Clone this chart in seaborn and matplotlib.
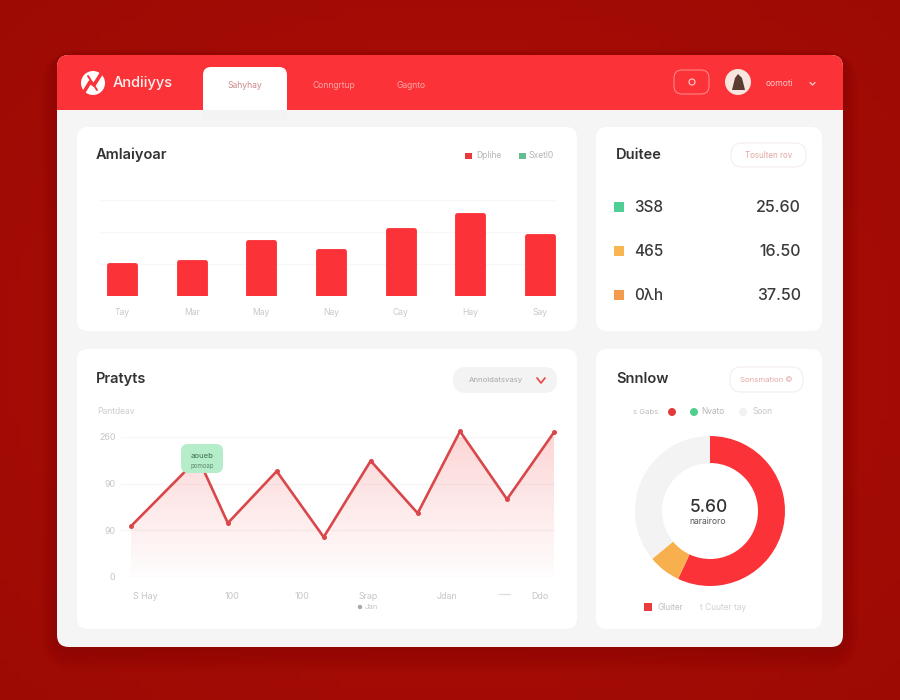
import numpy as np
import pandas as pd
import matplotlib
matplotlib.use("Agg")
import matplotlib.pyplot as plt
from matplotlib.patches import FancyBboxPatch, Circle, Rectangle, Polygon
import seaborn as sns

# ---- data ----
bar_months = ["Tay", "Mar", "May", "Nay", "Cay", "Hay", "Say"]
bar_values = [96, 105, 168, 139, 205, 252, 186]
bar_ticks = [0, 100, 200, 300]

line_days = [0, 1.43, 2.06, 3.1, 4.1, 5.1, 6.1, 7.0, 8.0, 9.0]
line_values = [98, 229, 104, 204, 77, 224, 123, 281, 150, 279]
line_yticks = [0, 90, 180, 270]
line_ylabels = ["0", "90", "90", "260"]
line_xticks = [0.3, 2.15, 3.64, 5.04, 6.72, 8.7]
line_xlabels = ["S Hay", "100", "100", "Srap", "Jdan", "Ddo"]

donut_values = [57, 7, 36]
donut_colors = ["#fb3338", "#f8b04e", "#f3f3f3"]

dur_labels = ["3S8", "465", "0\u03bbh"]
dur_values = ["25.60", "16.50", "37.50"]
dur_colors = ["#4fcf96", "#f9b54f", "#f49a4c"]

RED = "#fb3338"
sns.set_theme(style="white")
plt.rcParams["font.family"] = ["Inter", "DejaVu Sans"]

fig = plt.figure(figsize=(9, 7), dpi=100)


def px_axes(x0, y0, x1, y1, z=2):
    ax = fig.add_axes([x0 / 900, 1 - y1 / 700, (x1 - x0) / 900, (y1 - y0) / 700], zorder=z)
    ax.patch.set_alpha(0)
    return ax


def overlay(z):
    ax = fig.add_axes([0, 0, 1, 1], zorder=z)
    ax.set_xlim(0, 900)
    ax.set_ylim(700, 0)
    ax.axis("off")
    ax.patch.set_alpha(0)
    return ax


def rbox(ax, x0, y0, x1, y1, r, fc, ec="none", lw=0, z=1, alpha=None):
    ax.add_patch(FancyBboxPatch((x0 + r, y0 + r), x1 - x0 - 2 * r, y1 - y0 - 2 * r,
                                boxstyle=f"round,pad={r},rounding_size={r}",
                                fc=fc, ec=ec, lw=lw, zorder=z, alpha=alpha))


# ---- background ----
bg = overlay(0)
yy, xx = np.mgrid[0:1:70j, 0:1:90j]
d = np.clip(np.hypot((xx - 0.5) / 0.75, (yy - 0.5) / 0.75), 0, 1)
c0 = np.array([176, 16, 8]) / 255
c1 = np.array([156, 10, 4]) / 255
bg.imshow((c0[None, None, :] * (1 - d[..., None]) + c1[None, None, :] * d[..., None]),
          extent=(0, 900, 700, 0), aspect="auto", zorder=0)
bg.set_xlim(0, 900)
bg.set_ylim(700, 0)
for i in range(8):
    g = 26 - i * 3
    rbox(bg, 57 - g * .6, 55 - g * .2, 843 + g * .6, 647 + g, 14 + g, "#6e0602", alpha=0.035, z=1)
rbox(bg, 57, 55, 843, 647, 12, "#f5f5f5", z=2)
# header, square at the bottom
rbox(bg, 57, 55, 843, 90, 12, RED, z=3)
bg.add_patch(Rectangle((57, 72), 786, 37.5, fc=RED, ec="none", zorder=3))
# tab
rbox(bg, 203, 67, 287, 100, 8, "#ffffff", z=4)
bg.add_patch(Rectangle((203, 85), 84, 25, fc="#ffffff", ec="none", zorder=4))
bg.add_patch(Rectangle((203, 110), 84, 10, fc="#f3f3f3", ec="none", zorder=2.5))
# cards
for box in [(77, 127, 577, 331), (596, 127, 822, 331), (77, 349, 577, 629), (596, 349, 822, 629)]:
    rbox(bg, *box, 11, "#ffffff", z=5)

T = dict(zorder=6, va="center")
# header content
bg.add_patch(Circle((93, 83), 12, fc="#ffffff", ec="none", zorder=6))
bg.plot([84, 90, 94, 101], [92, 82, 85, 74], color=RED, lw=2.6, zorder=7)
bg.plot([88, 97], [76, 90], color=RED, lw=1.4, zorder=7)
bg.text(113, 83, "Andiiyys", color="#fff1f0", fontsize=10.5, fontweight="medium", **T)
bg.text(245, 86, "Sahyhay", color="#c98a88", fontsize=6.2, ha="center", **T)
bg.text(334, 85, "Conngrtup", color="#ffa5a5", fontsize=6.2, ha="center", **T)
bg.text(411, 85, "Gagnto", color="#ffa5a5", fontsize=6.2, ha="center", **T)
rbox(bg, 674, 70, 709, 94, 8, "none", ec="#ff8f8f", lw=0.7, z=6)
bg.add_patch(Circle((692, 82), 3, fc="none", ec="#ffd0d0", lw=0.8, zorder=6))
bg.add_patch(Circle((738, 82), 13, fc="#f7e6dd", ec="none", zorder=6))
bg.add_patch(Polygon([[732, 90], [735, 78], [738, 74], [742, 78], [745, 90]], fc="#5b3a32", ec="none", zorder=7))
bg.text(779, 84, "oomoti", color="#ffc4c2", fontsize=6.2, ha="center", **T)
bg.plot([810, 812.5, 815], [82.5, 85, 82.5], color="#ffc4c2", lw=1, zorder=6)

# ---- card 1: bars ----
bg.text(96, 155, "Amlaiyoar", color="#333333", fontsize=10.5, fontweight="semibold", **T)
bg.add_patch(Rectangle((465, 153), 6.5, 5.5, fc="#e8393c", ec="none", zorder=6))
bg.text(476, 156, "Dplihe", color="#b5b5b5", fontsize=6.2, **T)
bg.add_patch(Rectangle((519, 153), 6.5, 5.5, fc="#66bd92", ec="none", zorder=6))
bg.text(529, 156, "Sxetl0", color="#b5b5b5", fontsize=6.2, **T)

ax1 = px_axes(100, 200, 556, 295.5)
df_bar = pd.DataFrame({"month": bar_months, "value": bar_values})
sns.barplot(data=df_bar, x="month", y="value", color=RED, saturation=1, width=0.375, ax=ax1, zorder=3,
            edgecolor=RED, linewidth=3.5)
for p in ax1.patches:
    p.set_joinstyle("round")
ax1.set_xlim((100 - 122) / 69.67, (556 - 122) / 69.67)
ax1.set_ylim(0, 300)
ax1.set_yticks(bar_ticks)
ax1.set_yticklabels([])
ax1.set_xlabel("")
ax1.set_ylabel("")
ax1.grid(axis="y", color="#f7f7f7", lw=0.9, zorder=0)
ax1.grid(axis="x", visible=False)
ax1.tick_params(axis="x", length=0, pad=9, labelsize=6.2, labelcolor="#c8c8c8")
ax1.tick_params(axis="y", length=0)
sns.despine(ax=ax1, left=True, bottom=True)

# ---- card 2: list ----
bg.text(616, 155, "Duitee", color="#333333", fontsize=10.5, fontweight="semibold", **T)
rbox(bg, 731, 143, 806, 167, 11, "#ffffff", ec="#f5eded", lw=0.8, z=6)
bg.text(768.5, 155, "Tosulten rov", color="#e2a7a2", fontsize=5.8, ha="center", zorder=7, va="center")
for i, (lab, val, col) in enumerate(zip(dur_labels, dur_values, dur_colors)):
    y = 207 + i * 44
    bg.add_patch(Rectangle((614, y - 5), 10, 10, fc=col, ec="none", zorder=6))
    bg.text(634, y, lab, color="#3a3a3a", fontsize=11, fontweight="medium", **T)
    bg.text(801, y, val, color="#3a3a3a", fontsize=11.5, fontweight="medium", ha="right", **T)

# ---- card 3: line ----
bg.text(96, 379, "Pratyts", color="#333333", fontsize=10.5, fontweight="semibold", **T)
rbox(bg, 453, 367, 557, 393, 13, "#f3f3f3", z=6)
bg.text(496, 380, "Annoidatsvasy", color="#a8a8a8", fontsize=5.6, ha="center", zorder=7, va="center")
bg.plot([537, 541, 545], [378, 383, 378], color="#e8504f", lw=1.3, zorder=7)
bg.text(97, 412, "Pantdeav", color="#cdcdcd", fontsize=6.2, **T)

ax2 = px_axes(121, 437, 556, 577)
scale = 47.0
ax2.set_xlim((121 - 131) / scale, (556 - 131) / scale)
ax2.set_ylim(0, 270)
df_line = pd.DataFrame({"day": line_days, "value": line_values})
grad = np.zeros((64, 2, 4))
grad[..., :3] = matplotlib.colors.to_rgb("#f8696b")
grad[..., 3] = np.linspace(0.30, 0.015, 64)[:, None]
top = 300
img = ax2.imshow(grad, extent=(line_days[0], line_days[-1], 0, top), aspect="auto", origin="upper",
                 zorder=1, clip_on=True)
poly = Polygon(list(zip(line_days, line_values)) + [(line_days[-1], 0), (line_days[0], 0)],
               transform=ax2.transData, fc="none", ec="none")
ax2.add_patch(poly)
img.set_clip_path(poly)
sns.lineplot(data=df_line, x="day", y="value", color="#d9474a", lw=1.9, ax=ax2, zorder=3, clip_on=False,
             marker="o", markersize=3.6, markeredgewidth=0, errorbar=None)
ax2.set_xlim((121 - 131) / scale, (556 - 131) / scale)
ax2.set_ylim(0, 270)
ax2.set_yticks(line_yticks)
ax2.set_yticklabels(line_ylabels)
ax2.set_xticks(line_xticks)
ax2.set_xticklabels(line_xlabels)
ax2.set_xlabel("")
ax2.set_ylabel("")
ax2.grid(axis="y", color="#f6f6f6", lw=0.9, zorder=0)
ax2.grid(axis="x", visible=False)
ax2.tick_params(axis="both", length=0, labelsize=6.4, labelcolor="#c6c6c6")
ax2.tick_params(axis="x", pad=11)
ax2.tick_params(axis="y", pad=4)
sns.despine(ax=ax2, left=True, bottom=True)

top_ov = overlay(6)
rbox(top_ov, 181, 444, 223, 473, 7, "#b5ecc9", z=2)
top_ov.text(202, 456, "aoueb", color="#3d6b52", fontsize=5.6, ha="center", va="center", zorder=3)
top_ov.text(202, 466, "pomoap", color="#5f8a72", fontsize=4.4, ha="center", va="center", zorder=3)
top_ov.add_patch(Circle((360, 607), 2.2, fc="#a9a9a9", ec="none", zorder=3))
top_ov.text(365, 607, "Jan", color="#c6c6c6", fontsize=5.6, va="center", zorder=3)
top_ov.plot([499, 510], [594, 594], color="#dddddd", lw=0.9, zorder=3)

# ---- card 4: donut ----
bg.text(616, 379, "Snnlow", color="#333333", fontsize=10.5, fontweight="semibold", **T)
rbox(bg, 730, 367, 803, 392, 11, "#ffffff", ec="#f6eded", lw=0.8, z=6)
bg.text(766, 380, "Sonsmation \u00a9", color="#e2a7a2", fontsize=5.6, ha="center", zorder=7, va="center")
bg.text(646, 412, "s Gabs", color="#bcbcbc", fontsize=5.6, ha="center", **T)
bg.add_patch(Circle((672, 412), 4, fc="#e23b3d", ec="none", zorder=6))
bg.text(713, 412, "Nvato", color="#b5b5b5", fontsize=6, ha="center", **T)
bg.add_patch(Circle((694, 412), 4, fc="#4fcf8e", ec="none", zorder=6))
bg.add_patch(Circle((743, 412), 4, fc="#f1f1f1", ec="none", zorder=6))
bg.text(763, 412, "Soon", color="#c6c6c6", fontsize=6, ha="center", **T)

ax3 = px_axes(632, 432, 788, 590)
ax3.pie(donut_values, colors=donut_colors, startangle=90, counterclock=False, radius=1.0,
        wedgeprops=dict(width=0.36, lw=0))
ax3.set_xlim(-1.04, 1.04)
ax3.set_ylim(-1.05, 1.05)
ax3.set_aspect("equal")
top_ov.text(709, 507, "5.60", color="#333333", fontsize=12.5, fontweight="medium", ha="center", va="center", zorder=3)
top_ov.text(708, 521, "narairoro", color="#555555", fontsize=6.2, ha="center", va="center", zorder=3)
bg.add_patch(Rectangle((644, 603), 7.5, 7.5, fc="#ec3b3c", ec="none", zorder=6))
bg.text(657, 607, "Gluiter", color="#bdbdbd", fontsize=6, **T)
bg.text(700, 607, "t Cuuter tay", color="#d0d0d0", fontsize=6, **T)

fig.savefig("out.png", dpi=100)
